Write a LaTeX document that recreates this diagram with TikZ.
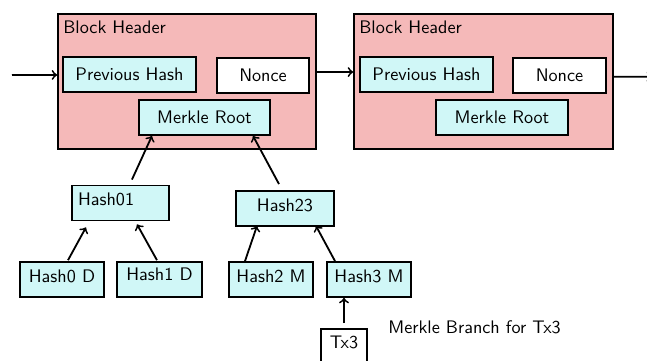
\documentclass[tikz,border=0pt]{standalone}
\usetikzlibrary{arrows}
\definecolor{headerpink}{RGB}{245,185,185}
\definecolor{hashcyan}{RGB}{208,247,247}
\begin{document}
\begin{tikzpicture}[x=0.55pt,y=-0.55pt,
  every node/.style={font=\sffamily},
  header/.style={draw=black, line width=1pt, fill=headerpink, minimum width=141.9pt, minimum height=74.25pt, inner sep=0pt},
  field/.style={draw=black, line width=1pt, fill=hashcyan, minimum height=19.25pt, inner sep=0pt},
  noncebox/.style={draw=black, line width=1pt, fill=white, minimum height=19.25pt, inner sep=0pt},
  leaf/.style={draw=black, line width=1pt, fill=hashcyan, minimum height=19.25pt, inner sep=0pt, text depth=3.8pt},
  txbox/.style={draw=black, line width=1pt, fill=white, minimum height=19.25pt, inner sep=0pt, text depth=4.2pt},
  arr/.style={->, line width=1pt}]
\useasboundingbox (0,0) rectangle (647,360);
\clip (0,0) rectangle (647,360);

% first block header
\node[header] (b1) at (187,81.5) {};
\node[anchor=west, inner sep=0pt] (bh1) at (63,27) {Block Header};
\node[field, minimum width=73.15pt] (ph1) at (129.5,74.5) {Previous Hash};
\node[noncebox, minimum width=50.6pt] (n1) at (263,75.5) {Nonce};
\node[field, minimum width=72.05pt] (mr1) at (204.5,117.5) {Merkle Root};

% second block header
\node[header, minimum width=142.45pt] (b2) at (483.5,81.5) {};
\node[anchor=west, inner sep=0pt] (bh2) at (359,27) {Block Header};
\node[field, minimum width=73.15pt] (ph2) at (426.5,74.5) {Previous Hash};
\node[noncebox, minimum width=51.15pt] (n2) at (559.5,75.5) {Nonce};
\node[field, minimum width=72.6pt] (mr2) at (502,117.5) {Merkle Root};

% chain links
\coordinate (inlet) at (12,75);
\coordinate (outlet) at (652,76.7);
\draw[arr] (inlet) -- ([yshift=3.6pt]b1.west);
\draw[arr] ([yshift=5.2pt]b1.east) -- ([yshift=5.2pt]b2.west);
\draw[arr] ([yshift=2.6pt]b2.east) -- (outlet);

% merkle tree
\node[leaf, minimum width=53.35pt, text width=46.75pt, align=left, inner xsep=3.3pt, text depth=4.4pt] (h01) at (120.5,203) {Hash01};
\node[leaf, minimum width=53.9pt] (h23) at (285,208.5) {Hash23};
\node[leaf, minimum width=46.2pt] (h0) at (62,279.5) {Hash0 D};
\node[leaf, minimum width=46.75pt, text depth=6pt] (h1) at (159.5,279.5) {Hash1 D};
\node[leaf, minimum width=46.2pt] (h2) at (271,279.5) {Hash2 M};
\node[leaf, minimum width=46.2pt] (h3) at (369,279.5) {Hash3 M};
\node[txbox, minimum width=25.3pt] (tx) at (344,346.5) {Tx3};
\node[anchor=west, inner sep=0pt] (branch) at (388,327) {Merkle Branch for Tx3};

\draw[arr] ([xshift=6.3pt,yshift=2.75pt]h01.north) -- ([xshift=-28.9pt]mr1.south);
\draw[arr] ([xshift=-3.3pt,yshift=3.3pt]h23.north) -- ([xshift=26.7pt]mr1.south);
\draw[arr] ([xshift=3.3pt,yshift=0.5pt]h0.north) -- ([xshift=-19pt,yshift=-3.3pt]h01.south);
\draw[arr] ([xshift=-1.4pt,yshift=0.5pt]h1.north) -- ([xshift=9.1pt,yshift=-1.65pt]h01.south);
\draw[arr] ([xshift=-14.3pt]h2.north) -- ([xshift=-15.4pt,yshift=0.55pt]h23.south);
\draw[arr] ([xshift=-18.7pt]h3.north) -- ([xshift=17.05pt,yshift=0.55pt]h23.south);
\draw[arr] ([yshift=2.75pt]tx.north) -- (tx.north |- h3.south);
\end{tikzpicture}
\end{document}
